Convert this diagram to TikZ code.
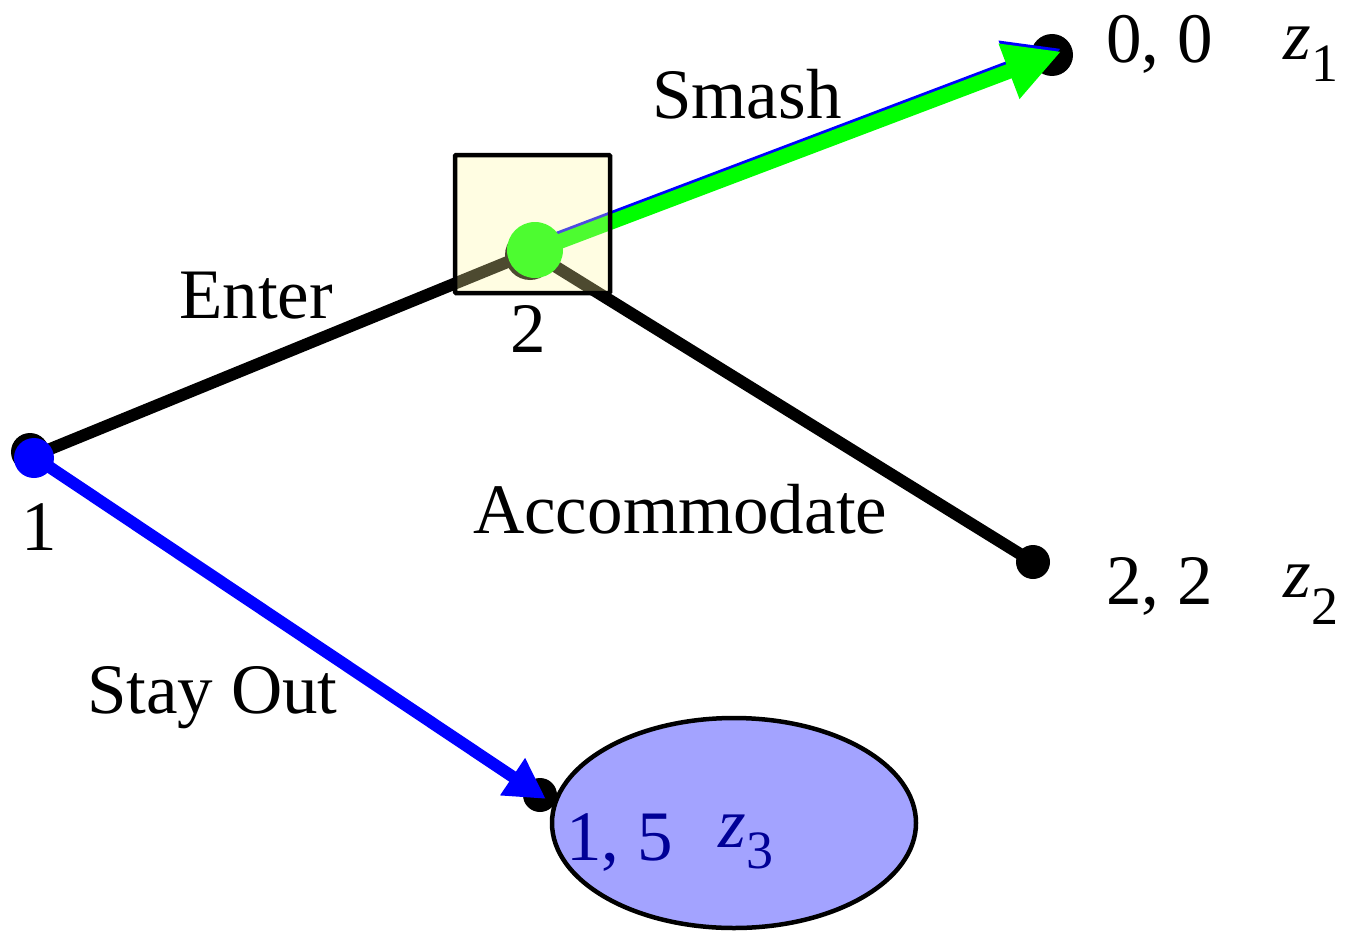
\documentclass[tikz,border=0pt]{standalone}
\usepackage{fontspec}
\setmainfont{Liberation Serif}
\usetikzlibrary{arrows.meta,shapes.geometric}
\definecolor{boxfill}{RGB}{255,247,160}
\definecolor{payoffink}{RGB}{0,0,92}
\definecolor{smashgreen}{RGB}{0,255,0}
\newcommand\lblfont{\fontsize{71}{80}\selectfont}
\newcommand\subfont{\fontsize{54}{60}\selectfont}

\begin{document}
\begin{tikzpicture}[x=1pt,y=-1pt,
  lbl/.style={inner sep=0pt, anchor=base west, font=\lblfont},
  dot/.style={circle, inner sep=0pt, draw=none, minimum size=#1},
  branch/.style={line width=12pt, black},
  bigtip/.style={-{Triangle[length=56pt,width=55pt]}},
  smalltip/.style={-{Triangle[length=40pt,width=42pt]}}]
\useasboundingbox (0,0) rectangle (1359,931);

% terminal nodes
\node[dot=42, fill=black] (z1) at (1052,55) {};
\node[dot=34, fill=black] (z2) at (1033,562) {};
\node[dot=34, fill=black] (z3) at (540,795) {};

% decision nodes (positions only, drawn later on top of the branches)
\coordinate (p1) at (33,456);
\coordinate (p2) at (532,252);

% branches
\draw[branch] (p1) -- (p2);
\draw[branch] (p2) -- (z2.center);
\draw[line width=15pt, blue, bigtip, shorten >=-10pt, transform canvas={yshift=3pt}] (p2) -- (z1.center);
\draw[line width=15pt, smashgreen, bigtip, shorten >=-10pt] (p2) -- (z1.center);
\draw[line width=12pt, blue, smalltip, shorten >=-7pt] (p1) -- (z3.center);

% decision node markers
\node[dot=38, fill=black] (n1b) at (30,452) {};
\node[dot=40, fill=blue] (n1) at (34,458) {};
\node[dot=50, fill=black] (n2b) at (530,255) {};
\node[dot=56, fill=smashgreen] (n2) at (535,250) {};

% payoff of staying out, in a translucent ellipse
\node[lbl, text=payoffink] (pay3) at (566,860) {1, 5};
\node[lbl, text=payoffink] (zz3) at (718,847) {\itshape z\kern1pt\raisebox{-21pt}{\upshape\subfont 3}};
\node[ellipse, draw=black, line width=4.5pt, fill=blue, fill opacity=0.36,
      minimum width=364pt, minimum height=210pt, inner sep=0pt] (oval) at (734,823) {};

% information box around player 2
\node[rectangle, draw=black, line width=4.5pt, fill=boxfill, fill opacity=0.3,
      rounded corners=1pt, minimum width=155pt, minimum height=138pt, inner sep=0pt] (box2) at (532.5,224) {};

% labels
\node[lbl] (l1) at (21,550) {1};
\node[lbl] (l2) at (510,352) {2};
\node[lbl] (enter) at (179,318) {Enter};
\node[lbl] (smash) at (652,118) {Smash};
\node[lbl] (acc) at (473,533) {Accommodate};
\node[lbl] (stay) at (87,713) {Stay Out};

% payoffs
\node[lbl] (pay1) at (1106,63) {0, 0};
\node[lbl] (zz1) at (1283,60) {\itshape z\kern1pt\raisebox{-22pt}{\upshape\subfont 1}};
\node[lbl] (pay2) at (1106,604) {2, 2};
\node[lbl] (zz2) at (1283,597) {\itshape z\kern1pt\raisebox{-27pt}{\upshape\subfont 2}};
\end{tikzpicture}
\end{document}
